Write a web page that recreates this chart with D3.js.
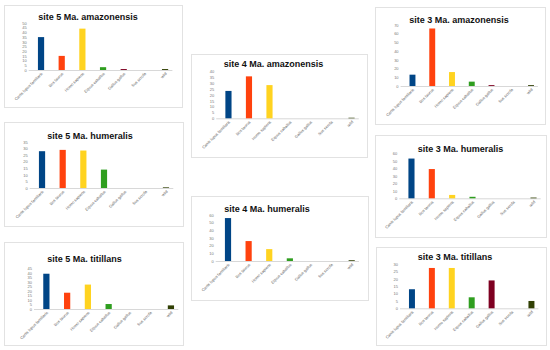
<!DOCTYPE html>
<html>
<head>
<meta charset="utf-8">
<script src="https://cdn.jsdelivr.net/npm/d3@7"></script>
<style>
  body { margin: 0; background: #fff; }
  text { font-family: "Liberation Sans", Arial, Helvetica, sans-serif; }
</style>
</head>
<body>
<script>
var w = 550;
var h = 350;
var svg;

// ---- data ----
var categories = ["Canis lupus familiaris", "Bos taurus", "Homo sapiens", "Equus caballus", "Gallus gallus", "Sus scrofa", "wild"];
var barColors = ["#004586", "#ff420e", "#ffd320", "#2f9e1f", "#7e0021", "#83caff", "#314004"];

var titles = ["site 5 Ma. amazonensis", "site 5 Ma. humeralis", "site 5 Ma. titillans",
              "site 4 Ma. amazonensis", "site 4 Ma. humeralis",
              "site 3 Ma. amazonensis", "site 3 Ma. humeralis", "site 3 Ma. titillans"];

var site5Amazonensis = [35, 15, 44, 3, 1, 0, 1];
var site5Humeralis   = [28, 29, 28.5, 14, 0, 0, 0.5];
var site5Titillans   = [39, 18, 27, 5.5, 0, 0, 4];
var site4Amazonensis = [23.5, 36, 28.5, 0, 0, 0, 0.5];
var site4Humeralis   = [56, 26, 15.5, 3.5, 0, 0, 1];
var site3Amazonensis = [13, 66, 16, 5, 1, 0, 1];
var site3Humeralis   = [53, 39, 4.5, 2, 0, 0, 1];
var site3Titillans   = [13, 27.5, 27.5, 7.5, 19, 0, 5];

var yMax  = [50, 35, 45, 40, 60, 70, 60, 30];
var yStep = [5, 5, 5, 5, 10, 10, 10, 5];

// ---- layout (box, x range, y range, title position) ----
var layout = [
  {box: [4, 5, 178, 102],   x: [30.7, 175.4], y: [70, 23],      title: [88, 20]},
  {box: [4, 122, 179, 104], x: [31.7, 176.3], y: [188, 142],    title: [90, 138.5]},
  {box: [4, 242, 179, 103], x: [36, 181.3],   y: [309, 268.3],  title: [84.5, 261.5]},
  {box: [191, 54, 176, 103],x: [218.2, 361.8],y: [118.3, 71.7], title: [273.5, 67]},
  {box: [191, 196, 177, 104],x:[217.7, 362],  y: [261, 215],    title: [267, 211.5]},
  {box: [375, 7, 170, 117], x: [402.6, 540.9],y: [86, 25],      title: [459, 23]},
  {box: [375, 135, 171, 102],x:[401.3, 543.7],y: [198.3, 153.3],title: [460.5, 151.5]},
  {box: [376, 247, 170, 98],x: [402, 541.4],  y: [308.3, 264.3],title: [455, 260]}
];

var series = [site5Amazonensis, site5Humeralis, site5Titillans, site4Amazonensis,
              site4Humeralis, site3Amazonensis, site3Humeralis, site3Titillans];

drawContent();

function drawContent(){
    svg = d3.select("body")
        .append("svg")
        .attr("width", w)
        .attr("height", h);

    svg.append("rect")
        .attr("width", w)
        .attr("height", h)
        .attr("fill", "#fff");

    for (var i = 0; i < series.length; i++) {
        drawPanel(i);
    }
}

function drawPanel(i){
    var L = layout[i];
    var g = svg.append("g");

    //---box-----
    g.append("rect")
        .attr("x", L.box[0] + 0.5)
        .attr("y", L.box[1] + 0.5)
        .attr("width", L.box[2])
        .attr("height", L.box[3])
        .attr("fill", "#fff")
        .attr("stroke", "#e2e2e2")
        .attr("stroke-width", 1);

    var x = d3.scaleBand()
        .domain(categories)
        .range(L.x)
        .paddingInner(0.7)
        .paddingOuter(0.35);

    var y = d3.scaleLinear()
        .domain([0, yMax[i]])
        .range(L.y);

    //---title-----
    g.append("text")
        .text(titles[i])
        .attr("x", L.title[0])
        .attr("y", L.title[1])
        .attr("text-anchor", "middle")
        .attr("font-size", 9)
        .attr("font-weight", "bold")
        .attr("fill", "#111");

    //---y labels-----
    var yAxis = d3.axisLeft(y)
        .tickValues(d3.range(0, yMax[i] + yStep[i] / 2, yStep[i]))
        .tickSize(0)
        .tickPadding(4);
    var ya = g.append("g")
        .attr("transform", "translate(" + L.x[0] + ",0)")
        .call(yAxis);
    ya.select(".domain").remove();
    ya.selectAll("text")
        .attr("font-size", 4)
        .attr("font-family", null)
        .attr("fill", "#777");

    //---baseline-----
    g.append("line")
        .attr("x1", L.x[0] - 2)
        .attr("x2", L.x[1] - 3)
        .attr("y1", y(0) + 0.5)
        .attr("y2", y(0) + 0.5)
        .attr("stroke", "#d8d8d8")
        .attr("stroke-width", 1);

    //---bars-----
    g.selectAll(".bar")
        .data(series[i])
        .enter()
        .append("rect")
        .attr("class", "bar")
        .attr("x", function(d, k){ return x(categories[k]); })
        .attr("y", function(d){ return y(d); })
        .attr("width", x.bandwidth())
        .attr("height", function(d){ return y(0) - y(d); })
        .attr("fill", function(d, k){ return barColors[k]; });

    //---category labels-----
    g.selectAll(".cat")
        .data(categories)
        .enter()
        .append("text")
        .attr("class", "cat")
        .text(function(d){ return d; })
        .attr("text-anchor", "end")
        .attr("font-size", 4)
        .attr("fill", "#666")
        .attr("transform", function(d){
            return "translate(" + (x(d) + x.bandwidth() / 2 + 2) + "," + (y(0) + 4) + ") rotate(-45)";
        });
}
</script>
</body>
</html>
